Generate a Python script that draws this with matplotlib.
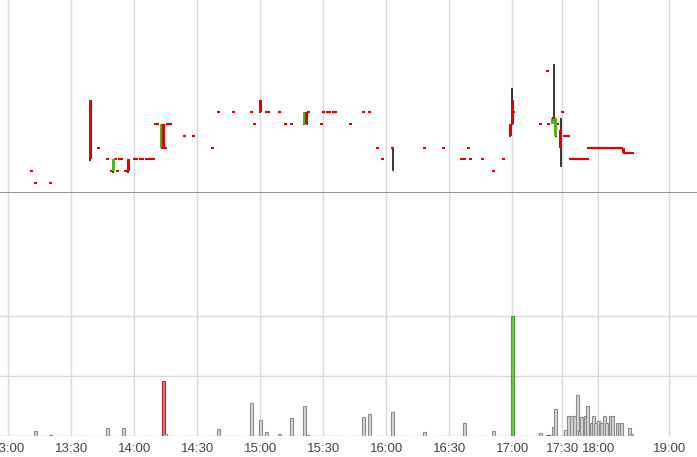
import numpy as np
import matplotlib
matplotlib.use("Agg")
import matplotlib.pyplot as plt

# one-print minutes (open = high = low = close)
flat_times = [
    "13:11", "13:13", "13:20", "13:43", "13:47", "13:49", "13:51", "13:52", "13:53", "13:54", "13:56",
    "14:00", "14:01", "14:03", "14:04", "14:06", "14:07", "14:08", "14:09", "14:10", "14:11",
    "14:15", "14:16", "14:17", "14:24", "14:28", "14:37", "14:40", "14:47", "14:56", "14:57",
    "15:03", "15:04", "15:09", "15:12", "15:15", "15:23", "15:29", "15:30", "15:32", "15:33",
    "15:35", "15:36", "15:43", "15:49", "15:52", "15:56", "15:58",
    "16:18", "16:27", "16:36", "16:37", "16:39", "16:40", "16:46", "16:51", "16:56",
    "17:01", "17:17", "17:21", "17:22", "17:27", "17:30",
    "17:32", "17:33", "17:34", "17:35",
    "17:37", "17:38", "17:39", "17:40", "17:41", "17:42", "17:43", "17:44", "17:45", "17:46",
    "17:47", "17:48", "17:49", "17:50", "17:51",
    "17:52", "17:53", "17:54", "17:55", "17:56", "17:57", "17:58", "17:59", "18:00", "18:01",
    "18:02", "18:03", "18:04", "18:05", "18:06", "18:07", "18:08", "18:09", "18:10", "18:11",
    "18:12", "18:13", "18:14", "18:15", "18:16", "18:17", "18:18", "18:19", "18:20",
    "18:22", "18:23", "18:24", "18:25", "18:26", "18:27", "18:28", "18:29",
]
flat_prices = [
    25.05, 25.00, 25.00, 25.15, 25.10, 25.05, 25.10, 25.05, 25.10, 25.10, 25.05,
    25.10, 25.10, 25.10, 25.10, 25.10, 25.10, 25.10, 25.10, 25.25, 25.25,
    25.15, 25.25, 25.25, 25.20, 25.20, 25.15, 25.30, 25.30, 25.30, 25.25,
    25.30, 25.30, 25.30, 25.25, 25.25, 25.30, 25.25, 25.30, 25.30, 25.30,
    25.30, 25.30, 25.25, 25.30, 25.30, 25.15, 25.10,
    25.15, 25.15, 25.10, 25.10, 25.15, 25.10, 25.10, 25.05, 25.10,
    25.30, 25.25, 25.47, 25.25, 25.25, 25.30,
    25.20, 25.20, 25.20, 25.20,
    25.10, 25.10, 25.10, 25.10, 25.10, 25.10, 25.10, 25.10, 25.10, 25.10,
    25.10, 25.10, 25.10, 25.10, 25.10,
    25.15, 25.15, 25.15, 25.15, 25.15, 25.15, 25.15, 25.15, 25.15, 25.15,
    25.15, 25.15, 25.15, 25.15, 25.15, 25.15, 25.15, 25.15, 25.15, 25.15,
    25.15, 25.15, 25.15, 25.15, 25.15, 25.15, 25.15, 25.15, 25.15,
    25.125, 25.125, 25.125, 25.125, 25.125, 25.125, 25.125, 25.125,
]

# minutes with a range
bar_times = ["13:39", "13:50", "13:57", "14:13", "14:14", "15:00", "15:21", "15:22",
             "16:03", "16:59", "17:00", "17:24", "17:25", "17:26", "17:29", "18:21"]
bar_open = [25.35, 25.05, 25.10, 25.15, 25.25, 25.35, 25.25, 25.30,
            25.15, 25.25, 25.35, 25.25, 25.275, 25.20, 25.225, 25.15]
bar_high = [25.35, 25.10, 25.10, 25.25, 25.25, 25.35, 25.30, 25.30,
            25.15, 25.25, 25.40, 25.275, 25.50, 25.275, 25.275, 25.15]
bar_low = [25.095, 25.045, 25.045, 25.145, 25.145, 25.295, 25.245, 25.245,
           25.05, 25.195, 25.245, 25.25, 25.275, 25.195, 25.07, 25.125]
bar_close = [25.10, 25.10, 25.05, 25.25, 25.15, 25.30, 25.30, 25.25,
             25.15, 25.20, 25.25, 25.275, 25.275, 25.275, 25.15, 25.125]

# volume
vol_times = ["13:13", "13:20", "13:47", "13:55", "14:14", "14:15", "14:40", "14:56", "15:00",
             "15:03", "15:09", "15:15", "15:21", "15:23", "15:33", "15:49", "15:52", "16:03",
             "16:18", "16:37", "16:51", "17:00", "17:17", "17:22", "17:25", "17:26",
             "17:33", "17:35", "17:38", "17:40", "17:43", "17:44", "17:46", "17:49", "17:51",
             "17:54", "17:56", "17:58", "18:00", "18:02", "18:03", "18:05", "18:07", "18:10",
             "18:12", "18:16", "18:18", "18:20", "18:26", "18:28"]
vol_sizes = [440, 110, 670, 670, 4610, 190, 580, 2780, 1330,
             300, 190, 1530, 2530, 80, 40, 1610, 1860, 2030,
             300, 1110, 440, 10000, 280, 110, 780, 2280,
             530, 1690, 1690, 1690, 3440, 440, 1610, 1690, 2530,
             1110, 1690, 1110, 1280, 1110, 1110, 1690, 1110, 1690,
             1690, 1110, 1110, 1110, 690, 170]
buy_bars = ["17:00"]
sell_bars = ["14:14", "17:22"]

tick_labels = ["13:00", "13:30", "14:00", "14:30", "15:00", "15:30", "16:00",
               "16:30", "17:00", "17:30", "18:00", "19:00"]

# the time axis of the source is not linear: pixel positions of each label
tick_px = [8.3, 71.3, 134.3, 197.3, 260.3, 323.3, 386.3, 449.3, 512.3, 562.3, 598.3, 669.3]


def minutes(s):
    h, m = s.split(":")
    return int(h) * 60 + int(m)


tick_min = [minutes(s) for s in tick_labels]


def xpos(times):
    return np.interp([minutes(s) for s in times], tick_min, tick_px)


RED = "#e30000"
GREEN = "#46b914"
W = 3.0

fig = plt.figure(figsize=(6.97, 4.57), dpi=100)
ax = fig.add_axes([0, 1 - 193 / 457, 1, 193 / 457])
axv = fig.add_axes([0, 1 - 436 / 457, 1, 243 / 457])

for a in (ax, axv):
    a.set_xlim(0, 697)
    for s in a.spines.values():
        s.set_visible(False)
    for xp in tick_px:
        a.axvline(xp, color="#dadada", lw=1, zorder=0)

# price panel
ax.set_ylim(24.959, 25.77)
ax.set_xticks([])
ax.set_yticks([])
ax.spines["bottom"].set_visible(True)
ax.spines["bottom"].set_color("#808080")
ax.spines["bottom"].set_linewidth(1.2)

fx = xpos(flat_times)
ax.hlines(flat_prices, fx - W / 2, fx + W / 2, color=RED, lw=1.5, zorder=3)

bx = xpos(bar_times)
o = np.array(bar_open)
c = np.array(bar_close)
ax.vlines(bx, bar_low, bar_high, color="black", lw=1.1, zorder=2)
up = c > o
down = c < o
same = c == o
ax.bar(bx[up], (c - o)[up], bottom=o[up], width=W, color=GREEN, lw=0, zorder=3)
ax.bar(bx[down], (c - o)[down], bottom=o[down], width=W, color=RED, lw=0, zorder=3)
ax.hlines(c[same], bx[same] - W / 2, bx[same] + W / 2, color=RED, lw=1.5, zorder=3)

# volume panel
axv.set_ylim(0, 20250)
axv.set_yticks([5000, 10000])
axv.set_yticklabels([])
axv.tick_params(axis="y", length=0)
axv.grid(axis="y", color="#dadada", lw=1)
axv.set_axisbelow(True)

vx = xpos(vol_times)
face = []
edge = []
for t in vol_times:
    if t in buy_bars:
        face.append("#74c654")
        edge.append("#4a9e2a")
    elif t in sell_bars:
        face.append("#e07a7a")
        edge.append("#c02828")
    else:
        face.append("#d6d6d6")
        edge.append("#8c8c8c")
axv.hlines(0, 0, xpos(["18:29"])[0] + 1.5, color="#8c8c8c", lw=1, linestyle=(0, (1, 1.2)), zorder=2)
axv.bar(vx, vol_sizes, width=W, color=face, edgecolor=edge, lw=0.8, zorder=3)

axv.set_xticks(tick_px)
axv.set_xticklabels(tick_labels, fontsize=9.5, color="#444444", family="Liberation Sans")
axv.tick_params(axis="x", length=0, pad=5)

fig.savefig("out.png", dpi=100)
